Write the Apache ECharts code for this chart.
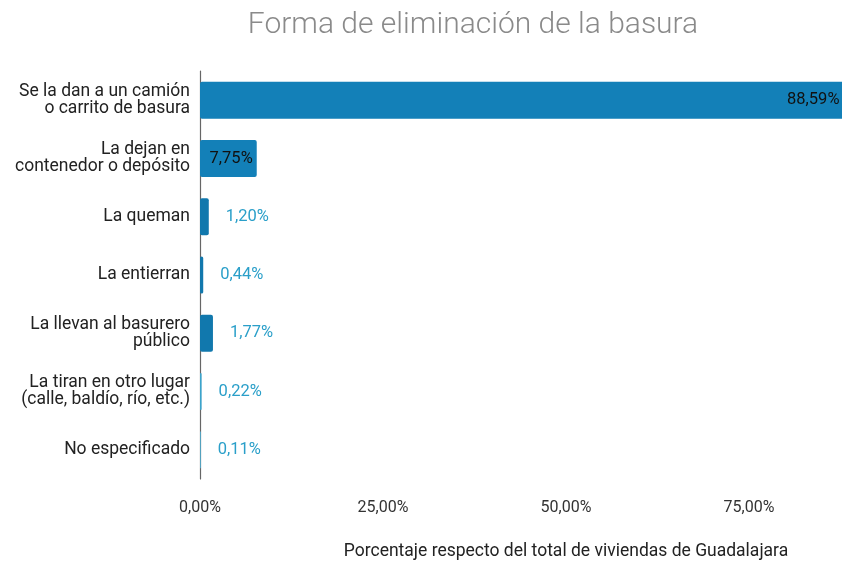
<!DOCTYPE html>
<html>
<head>
<meta charset="utf-8">
<script src="https://cdn.jsdelivr.net/npm/echarts@6/dist/echarts.min.js"></script>
<style>
	html, body { margin: 0; padding: 0; background: #fff; }
	#chart { width: 842px; height: 561px; }
</style>
</head>
<body>
<div id="chart"></div>
<script>
const categories = [
	'Se la dan a un camión\no carrito de basura',
	'La dejan en\ncontenedor o depósito',
	'La queman',
	'La entierran',
	'La llevan al basurero\npúblico',
	'La tiran en otro lugar\n(calle, baldío, río, etc.)',
	'No especificado'
];
const values = [88.59, 7.75, 1.20, 0.44, 1.77, 0.22, 0.11];
const barColors = ['#1380b8', '#1380b8', '#1178ad', '#1178ad', '#1178ad', '#3ba4cc', '#4fb0d4'];

const fmt = v => v.toFixed(2).replace('.', ',') + '%';

( function() {
	const chart = echarts.init(document.getElementById('chart'));

	const data = values.map((v, i) => {
		const inside = i < 2;
		return {
			value: v,
			itemStyle: { color: barColors[i] },
			label: inside ? {
				position: 'insideRight',
				distance: i === 0 ? 9 : 4,
				color: '#111'
			} : {
				position: 'right',
				distance: 17,
				color: '#2a9fc9'
			}
		};
	});

	chart.setOption({
		animation: false,
		title: {
			text: 'Forma de eliminación de la basura',
			left: 468,
			top: 5,
			textAlign: 'center',
			textStyle: {
				fontFamily: 'Roboto',
				fontWeight: 300,
				fontSize: 30,
				color: '#8a8a8a'
			}
		},
		grid: { left: 200, top: 71, width: 732, height: 408, outerBoundsMode: 'none', containLabel: false },
		xAxis: {
			type: 'value',
			min: 0,
			max: 100,
			interval: 25,
			splitLine: { show: false },
			axisLine: { show: false },
			axisTick: { show: false },
			axisLabel: {
				formatter: fmt,
				fontFamily: 'Roboto',
				fontSize: 16,
				color: '#333',
				margin: 21
			},
			name: 'Porcentaje respecto del total de viviendas de Guadalajara',
			nameLocation: 'middle',
			nameGap: 64,
			nameTextStyle: { fontFamily: 'Roboto', fontSize: 17.5, color: '#222' }
		},
		yAxis: {
			type: 'category',
			inverse: true,
			data: categories,
			axisLine: { lineStyle: { color: '#666', width: 1.2 } },
			axisTick: { show: false },
			axisLabel: {
				fontFamily: 'Roboto',
				fontSize: 17.5,
				lineHeight: 17,
				color: '#222',
				margin: 10,
				align: 'right'
			}
		},
		series: [{
			type: 'bar',
			data: data,
			barWidth: 37,
			itemStyle: { borderRadius: 2 },
			label: {
				show: true,
				formatter: p => fmt(p.value),
				fontFamily: 'Roboto',
				fontSize: 16.5
			}
		}]
	});
}() );
</script>
</body>
</html>
